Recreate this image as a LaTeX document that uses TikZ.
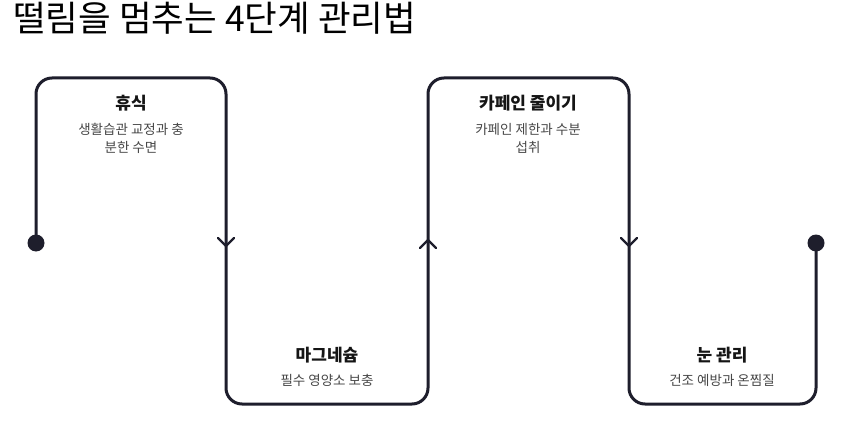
\documentclass[tikz,border=0pt]{standalone}
\usepackage{fontspec}
\setmainfont{Noto Sans CJK KR}
\usetikzlibrary{calc}
\definecolor{ink}{HTML}{1E1E2C}
\definecolor{headc}{HTML}{151515}
\definecolor{descc}{HTML}{474747}
\tikzset{
  flow/.style={draw=ink, line width=3pt, rounded corners=16pt, line cap=round},
  chev/.style={draw=ink, line width=2.2pt, line cap=round, line join=miter},
  enddot/.style={circle, fill=ink, inner sep=0pt, minimum size=17pt},
  head/.style={font=\fontsize{17}{20}\selectfont\bfseries, text=headc, inner sep=0pt, anchor=center},
  desc/.style={font=\fontsize{13.5}{18}\selectfont, text=descc, inner sep=0pt, align=center, anchor=north},
  titletext/.style={font=\fontsize{35.5}{40}\selectfont, text=black, inner sep=0pt, anchor=west}
}
\begin{document}
\begin{tikzpicture}[x=1pt, y=-1pt]
\useasboundingbox[fill=white] (0,0) rectangle (844,436);
\node[titletext] (title) at (13,18) {떨림을 멈추는 4단계 관리법};
% path ends
\coordinate (s) at (36,243);
\coordinate (e) at (816,243);
\node[enddot] (sdot) at (s) {};
\node[enddot] (edot) at (e) {};
\draw[flow] (s) -- (36,78) -- (226,78) -- (226,404) -- (428,404) -- (428,78) -- (629,78) -- (629,404) -- (816,404) -- (e);
% chevrons
\coordinate (a1) at (226,246);
\coordinate (a2) at (428,240);
\coordinate (a3) at (629,246);
\draw[chev] ($(a1)+(-8,-8)$) -- (a1) -- ($(a1)+(8,-8)$);
\draw[chev] ($(a2)+(-8,8)$) -- (a2) -- ($(a2)+(8,8)$);
\draw[chev] ($(a3)+(-8,-8)$) -- (a3) -- ($(a3)+(8,-8)$);
% texts
\node[head] (h1) at (131,103) {휴식};
\node[desc] (d1) at (131,123) {생활습관 교정과 충\\분한 수면};
\node[head] (h2) at (327,355) {마그네슘};
\node[desc] (d2) at (327,374) {필수 영양소 보충};
\node[head] (h3) at (528,103) {카페인 줄이기};
\node[desc] (d3) at (528,123) {카페인 제한과 수분\\섭취};
\node[head] (h4) at (722,355) {눈 관리};
\node[desc] (d4) at (722,374) {건조 예방과 온찜질};
\end{tikzpicture}
\end{document}
